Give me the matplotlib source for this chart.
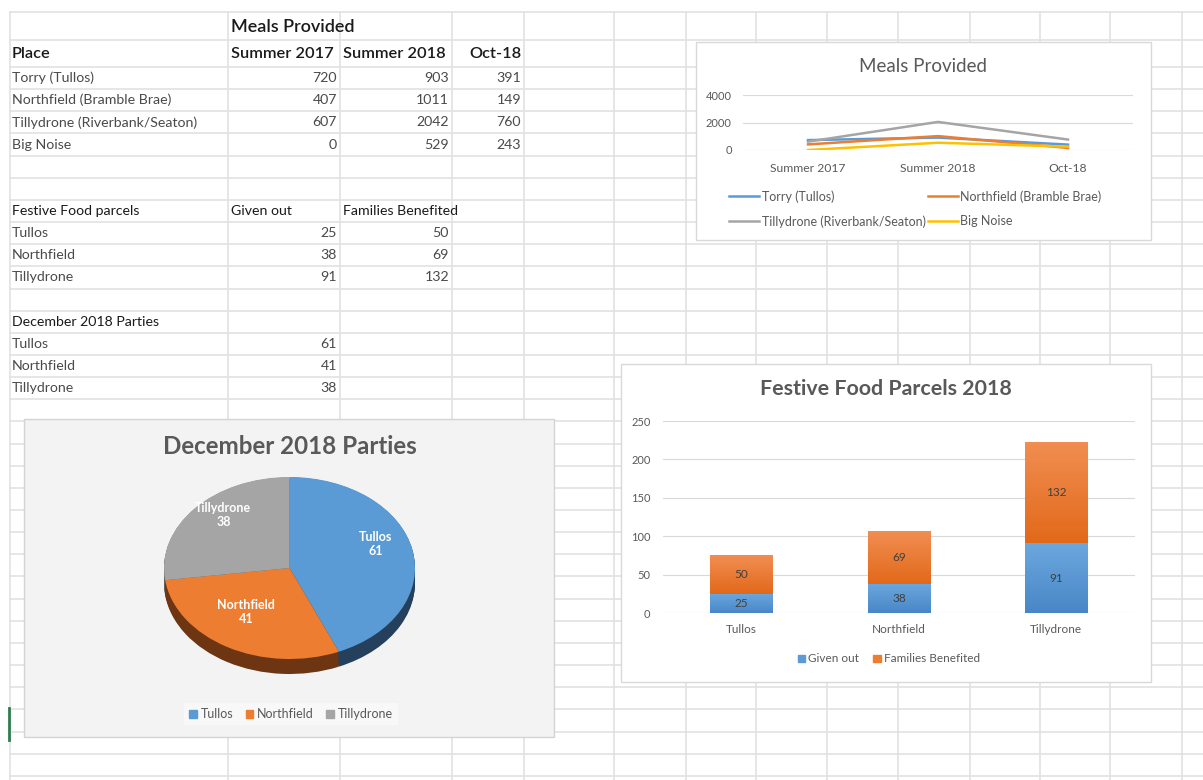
import matplotlib.pyplot as plt
import numpy as np
from matplotlib.patches import Rectangle, Patch
from matplotlib.colors import LinearSegmentedColormap

plt.rcParams["font.family"] = ["Lato", "DejaVu Sans"]

W, H = 1203, 780

# --- data (from the sheet) ---
periods = ["Summer 2017", "Summer 2018", "Oct-18"]
meal_places = ["Torry (Tullos)", "Northfield (Bramble Brae)",
               "Tillydrone (Riverbank/Seaton)", "Big Noise"]
torry = [720, 903, 391]
northfield = [407, 1011, 149]
tillydrone = [607, 2042, 760]
big_noise = [0, 529, 243]
meal_series = [torry, northfield, tillydrone, big_noise]

parcel_places = ["Tullos", "Northfield", "Tillydrone"]
given_out = [25, 38, 91]
families = [50, 69, 132]

party_places = ["Tullos", "Northfield", "Tillydrone"]
party_counts = [61, 41, 38]

BLUE, ORANGE, GREY, GOLD = "#5b9bd5", "#ed7d31", "#a5a5a5", "#ffc000"
series_colors = [BLUE, ORANGE, GREY, GOLD]
TXT = "#595959"

fig = plt.figure(figsize=(W / 100, H / 100), dpi=100)
bg = fig.add_axes([0, 0, 1, 1])
bg.set_xlim(0, W)
bg.set_ylim(H, 0)
bg.axis("off")


def px_axes(x0, y0, x1, y1):
    ax = fig.add_axes([x0 / W, 1 - y1 / H, (x1 - x0) / W, (y1 - y0) / H])
    ax.set_facecolor("none")
    return ax


# --- spreadsheet grid ---
col_x = [10, 228, 340, 452, 524, 614, 686, 756, 827, 898, 970, 1040, 1110, 1182]
row_y = [12, 40] + list(67 + 22.15 * np.arange(0, 33))
for x in col_x:
    bg.plot([x, x], [12, H], color="#e2e2e2", lw=1.2, zorder=1)
for y in row_y:
    bg.plot([10, W], [y, y], color="#e2e2e2", lw=1.2, zorder=1)
bg.plot([9, 9], [708, 740], color="#2f7d4f", lw=2, zorder=2)


def row_mid(k):
    return 67 + 22.15 * (k + 0.5)


cell = dict(fontsize=10.2, color="#4a4a4a", va="center", zorder=3)
head = dict(fontsize=11.8, color="#1a1a1a", va="center", weight="semibold", zorder=3)
num_right = [337, 449, 521]

# meals table
bg.text(231, 27, "Meals Provided", **dict(head, fontsize=13))
bg.text(12, 54, "Place", **head)
bg.text(231, 54, periods[0], **head)
bg.text(343, 54, periods[1], **head)
bg.text(521, 54, periods[2], ha="right", **head)
for i, (place, vals) in enumerate(zip(meal_places, meal_series)):
    bg.text(12, row_mid(i), place, **cell)
    for j, v in enumerate(vals):
        bg.text(num_right[j], row_mid(i), str(v), ha="right", **cell)

# parcels table
dark = dict(cell, color="#1a1a1a")
bg.text(12, row_mid(6), "Festive Food parcels", **dark)
bg.text(231, row_mid(6), "Given out", **dark)
bg.text(343, row_mid(6), "Families Benefited", **dark)
for i, place in enumerate(parcel_places):
    bg.text(12, row_mid(7 + i), place, **cell)
    bg.text(num_right[0], row_mid(7 + i), str(given_out[i]), ha="right", **cell)
    bg.text(num_right[1], row_mid(7 + i), str(families[i]), ha="right", **cell)

# parties table
bg.text(12, row_mid(11), "December 2018 Parties", **dark)
for i, place in enumerate(party_places):
    bg.text(12, row_mid(12 + i), place, **cell)
    bg.text(num_right[0], row_mid(12 + i), str(party_counts[i]), ha="right", **cell)

# --- chart boxes ---
bg.add_patch(Rectangle((696, 42), 455, 198, fc="white", ec="#d9d9d9", lw=1, zorder=5))
bg.add_patch(Rectangle((24, 419), 530, 318, fc="#f3f3f3", ec="#d4d4d4", lw=1, zorder=5))
bg.add_patch(Rectangle((621, 364), 530, 318, fc="white", ec="#d9d9d9", lw=1, zorder=5))

# --- line chart: Meals Provided ---
bg.text(923, 67, "Meals Provided", ha="center", va="center", fontsize=13.5,
        color=TXT, zorder=6)
lax = px_axes(743, 95, 1133, 150)
xs = np.arange(len(periods))
lines = []
for vals, c in zip(meal_series, series_colors):
    ln, = lax.plot(xs, vals, color=c, lw=1.8, solid_joinstyle="round")
    lines.append(ln)
lax.set_xlim(-0.5, 2.5)
lax.set_ylim(0, 4000)
lax.set_yticks([0, 2000, 4000])
lax.set_xticks(xs, periods)
lax.yaxis.grid(True, color="#d9d9d9", lw=0.8)
lax.set_axisbelow(True)
for s in lax.spines.values():
    s.set_visible(False)
lax.tick_params(axis="y", length=0, labelsize=8, labelcolor=TXT, pad=8)
lax.tick_params(axis="x", length=0, labelsize=8.7, labelcolor=TXT, pad=9)
order = [0, 2, 1, 3]
fig.legend([lines[k] for k in order], [meal_places[k] for k in order],
           ncol=2, loc="upper left", bbox_to_anchor=(729 / W, 1 - 190 / H),
           frameon=False, fontsize=9, labelcolor=TXT, handlelength=2.4,
           handletextpad=0.2, columnspacing=0.2, labelspacing=1.0,
           borderaxespad=0, borderpad=0)

# --- pie chart: December 2018 Parties ---
bg.text(290, 447, "December 2018 Parties", ha="center", va="center", fontsize=17.4,
        weight="bold", color=TXT, zorder=6)
cx, cy, rx, ry, depth = 289.5, 568, 125.5, 91, 15
pax = px_axes(cx - rx, cy - ry, cx + rx, cy + ry + depth)
d = depth / ry
side_colors = ["#25405c", "#6d3512", "#5e5e5e"]
for t in np.linspace(d, 0.005, 14):
    pax.pie(party_counts, colors=side_colors, startangle=90, counterclock=False,
            center=(0, -t), wedgeprops=dict(linewidth=0))
wedges, texts = pax.pie(party_counts,
                        labels=[f"{n}\n{v}" for n, v in zip(party_places, party_counts)],
                        labeldistance=0.7, colors=[BLUE, ORANGE, GREY], startangle=90,
                        counterclock=False, wedgeprops=dict(linewidth=0),
                        textprops=dict(color="white", fontsize=9, weight="bold"))
for t in texts:
    t.set_ha("center")
    t.set_va("center")
    t.set_multialignment("center")
    tx, ty = t.get_position()
    t.set_position((tx, ty + 0.12))
pax.set_aspect("auto")
pax.set_xlim(-1, 1)
pax.set_ylim(-1 - d, 1)
pax.axis("off")
fig.legend([Patch(color=c) for c in [BLUE, ORANGE, GREY]], party_places, ncol=3,
           loc="center", bbox_to_anchor=(291 / W, 1 - 714 / H), fontsize=9,
           labelcolor=TXT, frameon=True, facecolor="#fafafa", edgecolor="none",
           fancybox=False, handlelength=0.6, handleheight=0.6, handletextpad=0.3,
           columnspacing=1.0)

# --- stacked bars: Festive Food Parcels 2018 ---
bg.text(886, 389, "Festive Food Parcels 2018", ha="center", va="center", fontsize=15.4,
        weight="bold", color=TXT, zorder=6)
bax = px_axes(663, 421, 1135, 613)
bx = np.arange(len(parcel_places))
b1 = bax.bar(bx, given_out, width=0.4, color=BLUE)
b2 = bax.bar(bx, families, bottom=given_out, width=0.4, color=ORANGE)


def shade(ax, bars, top, bottom):
    cmap = LinearSegmentedColormap.from_list("g", [bottom, top])
    for b in bars:
        x0, y0, w, h = b.get_x(), b.get_y(), b.get_width(), b.get_height()
        im = ax.imshow(np.linspace(0, 1, 64).reshape(-1, 1), cmap=cmap, origin="lower",
                       extent=(x0, x0 + w, y0, y0 + h), aspect="auto", zorder=1.1)
        im.set_clip_path(b)


shade(bax, b1, "#6ca7de", "#4887c7")
shade(bax, b2, "#f18e52", "#e2691a")
bax.bar_label(b1, label_type="center", fontsize=8.5, color="#404040")
bax.bar_label(b2, label_type="center", fontsize=8.5, color="#404040")
bax.set_xlim(-0.5, 2.5)
bax.set_ylim(0, 250)
bax.set_yticks(range(0, 251, 50))
bax.set_xticks(bx, parcel_places)
bax.yaxis.grid(True, color="#d9d9d9", lw=0.8)
bax.set_axisbelow(True)
for s in bax.spines.values():
    s.set_visible(False)
bax.tick_params(axis="y", length=0, labelsize=8, labelcolor=TXT, pad=9)
bax.tick_params(axis="x", length=0, labelsize=8.5, labelcolor=TXT, pad=8)
fig.legend([Patch(color=BLUE), Patch(color=ORANGE)], ["Given out", "Families Benefited"],
           ncol=2, loc="center", bbox_to_anchor=(889 / W, 1 - 659 / H), fontsize=8.5,
           labelcolor=TXT, frameon=False, handlelength=0.6, handleheight=0.6,
           handletextpad=0.3, columnspacing=1.2)

fig.savefig("out.png", dpi=100)
